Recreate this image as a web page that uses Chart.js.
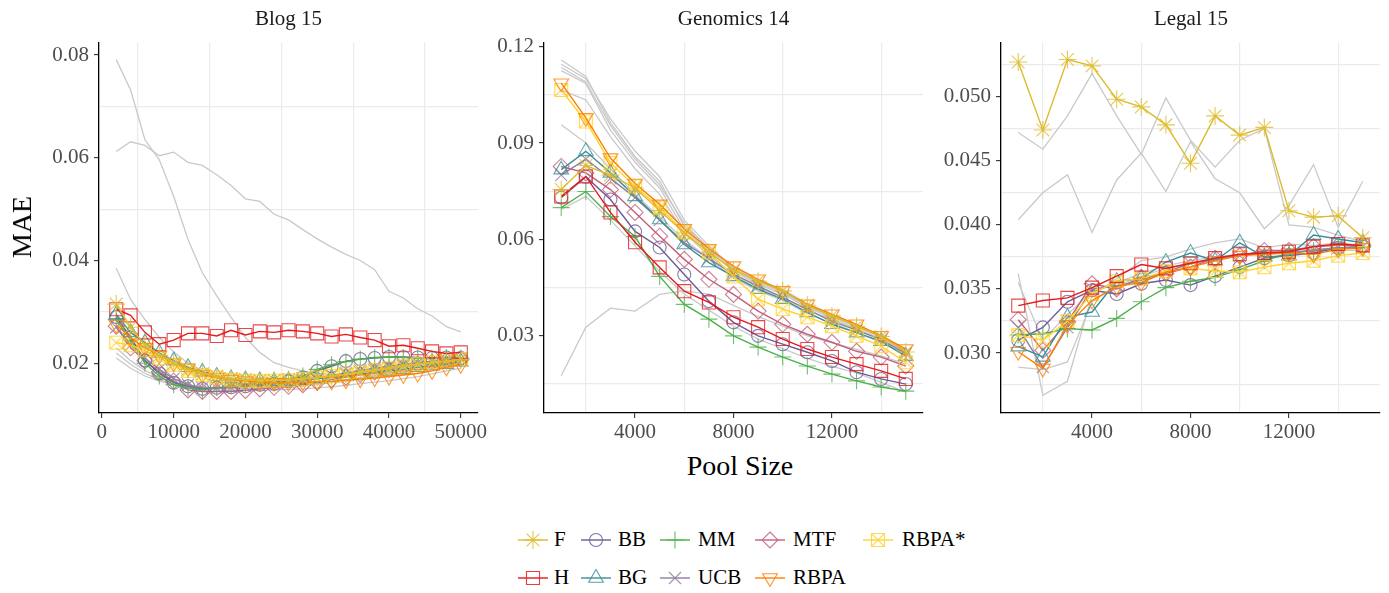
<!DOCTYPE html>
<html><head><meta charset="utf-8">
<script src="https://cdn.jsdelivr.net/npm/chart.js@4.4.1/dist/chart.umd.min.js"></script>
<style>
html,body{margin:0;padding:0;background:#fff;}
body{width:1389px;height:593px;position:relative;overflow:hidden;font-family:"Liberation Serif",serif;}
canvas.cv{position:absolute;top:0;}
.title{position:absolute;top:6px;font-size:21px;line-height:24px;color:#1a1a1a;transform:translateX(-50%);white-space:nowrap;}
.axt{position:absolute;font-size:28px;line-height:30px;color:#000;white-space:nowrap;}
.lk{position:absolute;}
.lt{position:absolute;font-size:21px;line-height:24px;color:#000;white-space:nowrap;}
</style>
</head><body>
<canvas id="c1" class="cv" width="518" height="450" style="left:0px"></canvas>
<canvas id="c2" class="cv" width="518" height="450" style="left:445px"></canvas>
<canvas id="c3" class="cv" width="518" height="450" style="left:902px"></canvas>
<div class="title" style="left:288.5px">Blog 15</div>
<div class="title" style="left:733.5px">Genomics 14</div>
<div class="title" style="left:1191px">Legal 15</div>
<div class="axt" style="left:22px;top:227px;transform:translate(-50%,-50%) rotate(-90deg);">MAE</div>
<div class="axt" style="left:740px;top:466px;transform:translate(-50%,-50%);">Pool Size</div>
<div id="legend"></div>
<script>
// ---------- DATA ----------
const blogPool = [2000,4000,6000,8000,10000,12000,14000,16000,18000,20000,22000,24000,26000,28000,30000,32000,34000,36000,38000,40000,42000,44000,46000,48000,50000];
const pool15 = [1000,2000,3000,4000,5000,6000,7000,8000,9000,10000,11000,12000,13000,14000,15000];

// Blog 15
const blogF    = [0.0315,0.0270,0.0235,0.0215,0.0200,0.0188,0.0180,0.0175,0.0170,0.0168,0.0167,0.0167,0.0168,0.0170,0.0172,0.0175,0.0178,0.0182,0.0186,0.0190,0.0194,0.0198,0.0201,0.0204,0.0207];
const blogH    = [0.0305,0.0293,0.0260,0.0237,0.0245,0.0258,0.0258,0.0253,0.0264,0.0255,0.0262,0.0260,0.0264,0.0262,0.0258,0.0252,0.0256,0.0250,0.0245,0.0233,0.0235,0.0229,0.0223,0.0219,0.0221];
const blogBB   = [0.0290,0.0250,0.0205,0.0180,0.0162,0.0155,0.0150,0.0152,0.0153,0.0155,0.0158,0.0160,0.0165,0.0172,0.0185,0.0194,0.0204,0.0208,0.0210,0.0212,0.0212,0.0211,0.0210,0.0211,0.0210];
const blogBG   = [0.0295,0.0260,0.0240,0.0220,0.0205,0.0192,0.0183,0.0175,0.0170,0.0168,0.0166,0.0165,0.0166,0.0168,0.0170,0.0172,0.0175,0.0178,0.0181,0.0185,0.0188,0.0192,0.0195,0.0198,0.0203];
const blogMM   = [0.0285,0.0245,0.0200,0.0175,0.0158,0.0152,0.0148,0.0152,0.0156,0.0158,0.0160,0.0163,0.0168,0.0175,0.0188,0.0197,0.0203,0.0208,0.0211,0.0212,0.0211,0.0210,0.0210,0.0211,0.0210];
const blogUCB  = [0.0270,0.0235,0.0210,0.0188,0.0170,0.0158,0.0152,0.0152,0.0153,0.0155,0.0157,0.0160,0.0162,0.0166,0.0171,0.0176,0.0181,0.0186,0.0190,0.0194,0.0198,0.0201,0.0204,0.0206,0.0208];
const blogMTF  = [0.0272,0.0230,0.0205,0.0183,0.0165,0.0148,0.0145,0.0145,0.0145,0.0147,0.0150,0.0153,0.0155,0.0158,0.0163,0.0168,0.0173,0.0178,0.0183,0.0188,0.0193,0.0198,0.0202,0.0205,0.0208];
const blogRBPA = [0.0275,0.0250,0.0230,0.0215,0.0200,0.0190,0.0178,0.0172,0.0168,0.0165,0.0163,0.0162,0.0162,0.0163,0.0164,0.0165,0.0167,0.0169,0.0171,0.0174,0.0177,0.0180,0.0185,0.0192,0.0197];
const blogRBPAs= [0.0240,0.0235,0.0225,0.0210,0.0197,0.0185,0.0177,0.0172,0.0168,0.0166,0.0165,0.0166,0.0167,0.0169,0.0172,0.0175,0.0178,0.0182,0.0186,0.0190,0.0194,0.0198,0.0202,0.0205,0.0208];
const blogGray1 = [0.0791,0.0732,0.0635,0.0596,0.0525,0.0441,0.0376,0.0331,0.0289,0.0250,0.0221,0.0201,0.0192,0.0185,0.0180,0.0178,0.0178,0.0180,0.0183,0.0186,0.0190,0.0193,0.0197,0.0200,0.0203];
const blogGray2 = [0.0612,0.0631,0.0624,0.0604,0.0611,0.0591,0.0585,0.0567,0.0546,0.0520,0.0515,0.0490,0.0479,0.0460,0.0442,0.0426,0.0412,0.0400,0.0382,0.0340,0.0327,0.0306,0.0292,0.0271,0.0261];
const blogGray3 = [0.0385,0.0324,0.0285,0.0250,0.0222,0.0200,0.0185,0.0172,0.0163,0.0158,0.0155,0.0154,0.0155,0.0157,0.0160,0.0163,0.0167,0.0171,0.0175,0.0179,0.0183,0.0187,0.0191,0.0195,0.0199];
const blogGray4 = [0.0210,0.0190,0.0175,0.0165,0.0158,0.0153,0.0150,0.0148,0.0147,0.0147,0.0147,0.0148,0.0149,0.0150,0.0152,0.0154,0.0157,0.0160,0.0163,0.0166,0.0170,0.0174,0.0179,0.0185,0.0190];
const blogGray5 = [0.0220,0.0198,0.0180,0.0168,0.0160,0.0155,0.0152,0.0150,0.0150,0.0150,0.0151,0.0152,0.0154,0.0156,0.0159,0.0162,0.0165,0.0169,0.0173,0.0177,0.0181,0.0186,0.0190,0.0195,0.0200];
const blogGray6 = [0.0230,0.0205,0.0186,0.0172,0.0163,0.0157,0.0154,0.0152,0.0151,0.0151,0.0152,0.0154,0.0156,0.0158,0.0161,0.0164,0.0168,0.0172,0.0176,0.0180,0.0184,0.0188,0.0192,0.0196,0.0201];

// Genomics 14
const genF    = [0.0755,0.0830,0.0800,0.0760,0.0690,0.0620,0.0560,0.0505,0.0470,0.0440,0.0395,0.0362,0.0330,0.0298,0.0250];
const genH    = [0.0734,0.0796,0.0684,0.0591,0.0513,0.0439,0.0404,0.0358,0.0327,0.0290,0.0259,0.0234,0.0212,0.0191,0.0166];
const genBB   = [0.0730,0.0795,0.0724,0.0625,0.0575,0.0491,0.0408,0.0342,0.0300,0.0274,0.0249,0.0222,0.0187,0.0166,0.0150];
const genBG   = [0.0817,0.0874,0.0807,0.0734,0.0662,0.0584,0.0528,0.0485,0.0445,0.0414,0.0373,0.0336,0.0310,0.0283,0.0237];
const genMM   = [0.0699,0.0749,0.0671,0.0609,0.0485,0.0398,0.0352,0.0300,0.0265,0.0234,0.0206,0.0181,0.0160,0.0141,0.0128];
const genUCB  = [0.0800,0.0850,0.0790,0.0730,0.0660,0.0590,0.0540,0.0492,0.0455,0.0420,0.0382,0.0345,0.0318,0.0288,0.0245];
const genMTF  = [0.0827,0.0807,0.0755,0.0684,0.0610,0.0538,0.0476,0.0429,0.0377,0.0336,0.0305,0.0280,0.0252,0.0234,0.0206];
const genRBPA = [0.1086,0.0978,0.0853,0.0774,0.0709,0.0633,0.0571,0.0517,0.0476,0.0440,0.0398,0.0367,0.0336,0.0300,0.0259];
const genRBPAs= [0.1065,0.0967,0.0838,0.0765,0.0699,0.0622,0.0560,0.0485,0.0414,0.0383,0.0358,0.0330,0.0300,0.0268,0.0218];
const genGray1 = [0.1158,0.1107,0.0963,0.0858,0.0781,0.0641,0.0575,0.0512,0.0475,0.0445,0.0400,0.0368,0.0335,0.0302,0.0260];
const genGray2 = [0.1145,0.1100,0.0975,0.0875,0.0795,0.0660,0.0580,0.0510,0.0470,0.0440,0.0395,0.0362,0.0330,0.0298,0.0255];
const genGray3 = [0.1135,0.1090,0.0955,0.0850,0.0770,0.0650,0.0570,0.0505,0.0465,0.0435,0.0390,0.0360,0.0328,0.0295,0.0250];
const genGray4 = [0.1125,0.1085,0.0940,0.0840,0.0760,0.0630,0.0565,0.0500,0.0460,0.0430,0.0388,0.0355,0.0322,0.0290,0.0245];
const genGray5 = [0.1065,0.1034,0.0920,0.0820,0.0740,0.0620,0.0550,0.0490,0.0450,0.0420,0.0380,0.0350,0.0320,0.0290,0.0245];
const genGray6 = [0.0957,0.0900,0.0820,0.0740,0.0670,0.0600,0.0540,0.0480,0.0440,0.0410,0.0370,0.0340,0.0310,0.0280,0.0240];
const genGray7 = [0.0176,0.0327,0.0386,0.0377,0.0429,0.0440,0.0430,0.0395,0.0360,0.0330,0.0300,0.0278,0.0258,0.0238,0.0212];
const genGray8 = [0.0693,0.0734,0.0660,0.0580,0.0500,0.0430,0.0380,0.0330,0.0290,0.0260,0.0230,0.0205,0.0185,0.0155,0.0125];

// Legal 15
const legF    = [0.0527,0.0474,0.0529,0.0524,0.0498,0.0492,0.0478,0.0448,0.0485,0.0470,0.0476,0.0411,0.0406,0.0407,0.0390];
const legH    = [0.0337,0.0341,0.0343,0.0351,0.0360,0.0369,0.0366,0.0370,0.0374,0.0377,0.0378,0.0379,0.0383,0.0385,0.0384];
const legBB   = [0.0310,0.0320,0.0340,0.0349,0.0346,0.0354,0.0357,0.0353,0.0360,0.0367,0.0374,0.0376,0.0378,0.0382,0.0383];
const legBG   = [0.0305,0.0297,0.0328,0.0332,0.0356,0.0358,0.0371,0.0378,0.0372,0.0386,0.0375,0.0376,0.0392,0.0389,0.0386];
const legMM   = [0.0314,0.0315,0.0319,0.0318,0.0327,0.0340,0.0351,0.0356,0.0359,0.0365,0.0372,0.0378,0.0380,0.0382,0.0383];
const legUCB  = [0.0320,0.0289,0.0320,0.0350,0.0352,0.0357,0.0363,0.0370,0.0373,0.0376,0.0378,0.0378,0.0380,0.0382,0.0383];
const legMTF  = [0.0326,0.0302,0.0324,0.0354,0.0350,0.0359,0.0362,0.0367,0.0374,0.0376,0.0380,0.0380,0.0383,0.0384,0.0384];
const legRBPA = [0.0301,0.0288,0.0322,0.0341,0.0352,0.0355,0.0363,0.0367,0.0372,0.0376,0.0377,0.0378,0.0377,0.0381,0.0382];
const legRBPAs= [0.0314,0.0310,0.0325,0.0346,0.0356,0.0358,0.0364,0.0366,0.0364,0.0363,0.0367,0.0370,0.0372,0.0376,0.0378];
const legGray1 = [0.0472,0.0459,0.0485,0.0518,0.0485,0.0455,0.0499,0.0466,0.0445,0.0466,0.0475,0.0400,0.0398,0.0392,0.0387];
const legGray2 = [0.0404,0.0425,0.0439,0.0394,0.0435,0.0456,0.0426,0.0465,0.0436,0.0425,0.0397,0.0415,0.0447,0.0398,0.0434];
const legGray3 = [0.0362,0.0267,0.0278,0.0345,0.0358,0.0372,0.0375,0.0381,0.0386,0.0389,0.0382,0.0385,0.0384,0.0386,0.0384];
const legGray4 = [0.0289,0.0287,0.0293,0.0340,0.0352,0.0360,0.0366,0.0370,0.0373,0.0376,0.0379,0.0380,0.0381,0.0382,0.0381];
const legGray5 = [0.0355,0.0310,0.0330,0.0348,0.0355,0.0362,0.0368,0.0372,0.0375,0.0377,0.0378,0.0379,0.0380,0.0380,0.0380];

// tick labels
const blogXTicks = [0,10000,20000,30000,40000,50000];
const blogYTicks = [0.02,0.04,0.06,0.08];
const genXTicks = [4000,8000,12000];
const genYTicks = [0.03,0.06,0.09,0.12];
const legXTicks = [4000,8000,12000];
const legYTicks = [0.030,0.035,0.040,0.045,0.050];
const legendLabels = ['F','BB','MM','MTF','RBPA*','H','BG','UCB','RBPA'];

// ---------- STYLES ----------
const STY = {
  'F':     {color:'#DDBB2C', ps:'star', r:9, ord:1},
  'H':     {color:'#E41A1C', ps:'rect', r:9.2, ord:2},
  'BB':    {color:'#6C5B97', ps:'circle', r:6.5, ord:8},
  'BG':    {color:'#3A8F99', ps:'triangle', r:8.5, ord:5},
  'MM':    {color:'#4DAF4A', ps:'cross', r:8.5, ord:7},
  'UCB':   {color:'#8E7FA0', ps:'crossRot', r:8.5, ord:6},
  'MTF':   {color:'#C25E78', ps:'rectRot', r:8, ord:9},
  'RBPA':  {color:'#FF7F00', ps:'triangle', rot:180, r:8.5, ord:3},
  'RBPA*': {color:'#FFD22E', ps:'rectX', r:6.5, ord:4}
};
const GRAY = '#c9c9c9';

function rgba(hex, a){const n=parseInt(hex.slice(1),16);return `rgba(${n>>16&255},${n>>8&255},${n&255},${a})`;}

function drawSym(ctx, st, x, y, color){
  const r = st.r;
  ctx.strokeStyle = color; ctx.lineWidth = 1.1;
  ctx.beginPath();
  switch(st.ps){
    case 'circle': ctx.arc(x,y,r,0,2*Math.PI); break;
    case 'rect': { const s=r*Math.SQRT1_2; ctx.rect(x-s,y-s,2*s,2*s); break; }
    case 'rectX': { ctx.rect(x-r,y-r,2*r,2*r); ctx.moveTo(x-r,y-r); ctx.lineTo(x+r,y+r); ctx.moveTo(x+r,y-r); ctx.lineTo(x-r,y+r); break; }
    case 'rectRot': ctx.moveTo(x,y-r); ctx.lineTo(x+r,y); ctx.lineTo(x,y+r); ctx.lineTo(x-r,y); ctx.closePath(); break;
    case 'triangle': { let a=(st.rot||0)*Math.PI/180; for(let i=0;i<3;i++){const px=x+Math.sin(a)*r, py=y-Math.cos(a)*r; if(i) ctx.lineTo(px,py); else ctx.moveTo(px,py); a+=2*Math.PI/3;} ctx.closePath(); break; }
    case 'cross': ctx.moveTo(x,y-r); ctx.lineTo(x,y+r); ctx.moveTo(x-r,y); ctx.lineTo(x+r,y); break;
    case 'crossRot': { const d=r*Math.SQRT1_2; ctx.moveTo(x-d,y-d); ctx.lineTo(x+d,y+d); ctx.moveTo(x+d,y-d); ctx.lineTo(x-d,y+d); break; }
    case 'star': { const d=r*Math.SQRT1_2; ctx.moveTo(x,y-r); ctx.lineTo(x,y+r); ctx.moveTo(x-r,y); ctx.lineTo(x+r,y); ctx.moveTo(x-d,y-d); ctx.lineTo(x+d,y+d); ctx.moveTo(x+d,y-d); ctx.lineTo(x-d,y+d); break; }
  }
  ctx.stroke();
}

// image for the square-with-X symbol
const rbpaStarImg = document.createElement('canvas');
rbpaStarImg.width = 16; rbpaStarImg.height = 16;
drawSym(rbpaStarImg.getContext('2d'), STY['RBPA*'], 8, 8, rgba(STY['RBPA*'].color,0.85));

function ds(name, xs, ys){
  const st = STY[name];
  return {
    label: name,
    data: xs.map((x,i)=>({x:x, y:ys[i]})),
    borderColor: st.color, borderWidth: 1.4,
    pointStyle: st.ps==='rectX' ? rbpaStarImg : st.ps,
    pointRadius: st.r, pointRotation: st.rot||0,
    pointBorderColor: rgba(st.color,0.8), pointBackgroundColor:'rgba(0,0,0,0)',
    pointBorderWidth: 1.1, tension: 0, order: st.ord
  };
}
function gds(xs, ys){
  return {label:'', data: xs.map((x,i)=>({x:x,y:ys[i]})), borderColor: GRAY, borderWidth: 1.3, pointRadius: 0, tension:0, order: 100};
}

const near = (a,b)=>Math.abs(a-b)<1e-9;
function makeScale(axis, min, max, majors, minors, fmt){
  const all = majors.concat(minors).sort((a,b)=>a-b);
  const isMaj = v => majors.some(m=>near(m,v));
  return {
    type:'linear', min:min, max:max,
    afterBuildTicks: s => { s.ticks = all.map(v=>({value:v})); },
    afterFit: s => { if(axis==='x') s.height = 37; else s.width = 99; },
    ticks:{autoSkip:false, maxRotation:0, minRotation:0, color:'#4d4d4d',
      font:{family:'Liberation Serif', size:21}, padding: axis==='x'?2:5,
      callback: v => isMaj(v) ? fmt(v) : ''},
    grid:{drawTicks:true, tickLength:5, lineWidth:1.2,
      color: c => (c.tick && isMaj(c.tick.value)) ? 'rgba(0,0,0,0)' : '#ebebeb',
      tickColor: c => (c.tick && isMaj(c.tick.value)) ? '#333' : 'rgba(0,0,0,0)', tickWidth:1.1},
    border:{display:true, color:'#000', width:1.3}
  };
}

function makeChart(id, datasets, xs, ys){
  return new Chart(document.getElementById(id), {
    type:'line',
    data:{datasets: datasets},
    options:{
      responsive:false, animation:false, events:[],
      layout:{padding:{top:42.7, right:40, bottom:0, left:0}},
      plugins:{legend:{display:false}, tooltip:{enabled:false}, title:{display:false}},
      scales:{x:xs, y:ys}
    }
  });
}

const names = ['F','H','BB','BG','MM','UCB','MTF','RBPA','RBPA*'];
const blogSets = {'F':blogF,'H':blogH,'BB':blogBB,'BG':blogBG,'MM':blogMM,'UCB':blogUCB,'MTF':blogMTF,'RBPA':blogRBPA,'RBPA*':blogRBPAs};
const genSets  = {'F':genF,'H':genH,'BB':genBB,'BG':genBG,'MM':genMM,'UCB':genUCB,'MTF':genMTF,'RBPA':genRBPA,'RBPA*':genRBPAs};
const legSets  = {'F':legF,'H':legH,'BB':legBB,'BG':legBG,'MM':legMM,'UCB':legUCB,'MTF':legMTF,'RBPA':legRBPA,'RBPA*':legRBPAs};

const intFmt = v => String(Math.round(v));
makeChart('c1',
  [blogGray1,blogGray2,blogGray3,blogGray4,blogGray5,blogGray6].map(g=>gds(blogPool,g)).concat(names.map(n=>ds(n,blogPool,blogSets[n]))),
  makeScale('x',-400,52400,blogXTicks,[5000,15000,25000,35000,45000],intFmt),
  makeScale('y',0.0103,0.0824,blogYTicks,[0.03,0.05,0.07],v=>v.toFixed(2)));
makeChart('c2',
  [genGray1,genGray2,genGray3,genGray4,genGray5,genGray6,genGray7,genGray8].map(g=>gds(pool15,g)).concat(names.map(n=>ds(n,pool15,genSets[n]))),
  makeScale('x',300,15700,genXTicks,[2000,6000,10000,14000],intFmt),
  makeScale('y',0.0060,0.1212,genYTicks,[0.015,0.045,0.075,0.105],v=>v.toFixed(2)));
makeChart('c3',
  [legGray1,legGray2,legGray3,legGray4,legGray5].map(g=>gds(pool15,g)).concat(names.map(n=>ds(n,pool15,legSets[n]))),
  makeScale('x',300,15700,legXTicks,[2000,6000,10000,14000],intFmt),
  makeScale('y',0.02532,0.05421,legYTicks,[0.0275,0.0325,0.0375,0.0425,0.0475,0.0525],v=>v.toFixed(3)));

// ---------- LEGEND ----------
const legendPos = [[518,539.5,554],[581,539.5,618],[660,539.5,698],[755,539.5,793],[863,539.5,902],
                   [518,577.5,554],[581,577.5,618],[660,577.5,698],[755,577.5,793]];
const lg = document.getElementById('legend');
legendLabels.forEach((name,i)=>{
  const [kx,cy,tx] = legendPos[i];
  const c = document.createElement('canvas');
  c.width = 32; c.height = 24; c.className='lk';
  c.style.left = (kx-1)+'px'; c.style.top = (cy-12)+'px';
  const ctx = c.getContext('2d');
  const st = STY[name];
  ctx.strokeStyle = st.color; ctx.lineWidth = 1.4;
  ctx.beginPath(); ctx.moveTo(1,12); ctx.lineTo(31,12); ctx.stroke();
  drawSym(ctx, st, 16, 12, rgba(st.color,0.85));
  lg.appendChild(c);
  const t = document.createElement('div');
  t.className='lt'; t.textContent = name;
  t.style.left = tx+'px'; t.style.top = (cy-13)+'px';
  lg.appendChild(t);
});
</script>
</body></html>
